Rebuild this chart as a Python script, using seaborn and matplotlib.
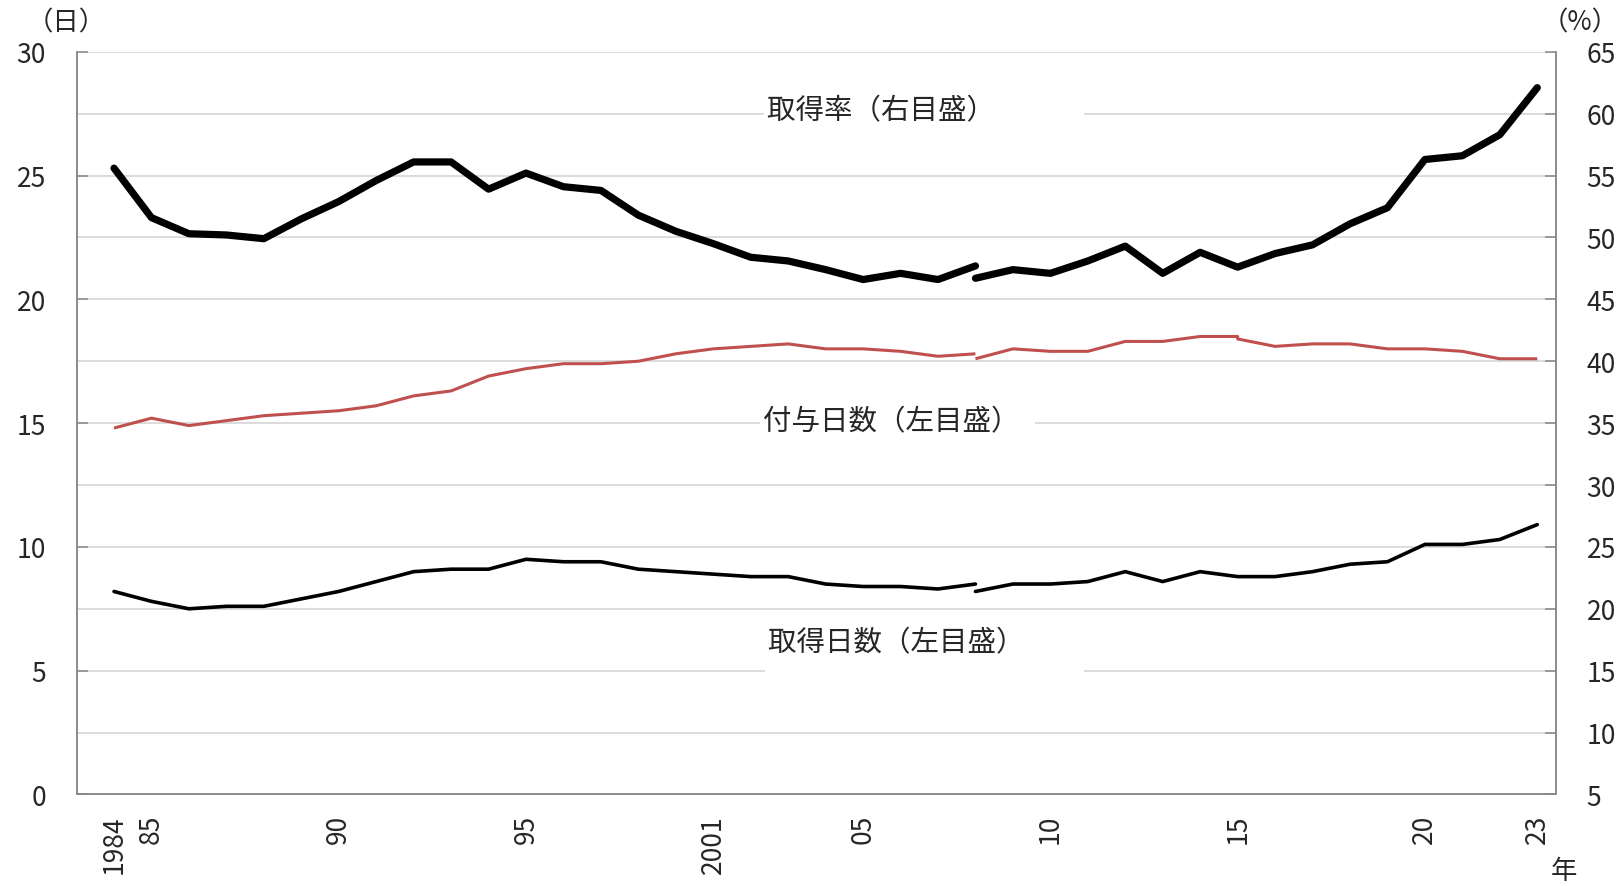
import numpy as np
import pandas as pd
import matplotlib
matplotlib.use("Agg")
import matplotlib.pyplot as plt
import seaborn as sns

# 年（2000年は調査なし）
years = list(range(1984, 2000)) + list(range(2001, 2024))
tick_labels = {1984: "1984", 1985: "85", 1990: "90", 1995: "95", 2001: "2001",
               2005: "05", 2010: "10", 2015: "15", 2020: "20", 2023: "23"}

# 旧基準 1984〜2008
old_years = years[:years.index(2008) + 1]
old_granted = [14.8, 15.2, 14.9, 15.1, 15.3, 15.4, 15.5, 15.7, 16.1, 16.3, 16.9, 17.2,
               17.4, 17.4, 17.5, 17.8, 18.0, 18.1, 18.2, 18.0, 18.0, 17.9, 17.7, 17.8]
old_taken = [8.2, 7.8, 7.5, 7.6, 7.6, 7.9, 8.2, 8.6, 9.0, 9.1, 9.1, 9.5,
             9.4, 9.4, 9.1, 9.0, 8.9, 8.8, 8.8, 8.5, 8.4, 8.4, 8.3, 8.5]
old_rate = [55.6, 51.6, 50.3, 50.2, 49.9, 51.5, 52.9, 54.6, 56.1, 56.1, 53.9, 55.2,
            54.1, 53.8, 51.8, 50.5, 49.5, 48.4, 48.1, 47.4, 46.6, 47.1, 46.6, 47.7]

# 新基準 2008〜2023（2015年は2つの値）
new_years = [2008, 2009, 2010, 2011, 2012, 2013, 2014, 2015, 2015,
             2016, 2017, 2018, 2019, 2020, 2021, 2022, 2023]
new_granted = [17.6, 18.0, 17.9, 17.9, 18.3, 18.3, 18.5, 18.5, 18.4,
               18.1, 18.2, 18.2, 18.0, 18.0, 17.9, 17.6, 17.6]
new_taken = [8.2, 8.5, 8.5, 8.6, 9.0, 8.6, 9.0, 8.8, 8.8,
             8.8, 9.0, 9.3, 9.4, 10.1, 10.1, 10.3, 10.9]
new_rate = [46.7, 47.4, 47.1, 48.1, 49.3, 47.1, 48.8, 47.6, 47.6,
            48.7, 49.4, 51.1, 52.4, 56.3, 56.6, 58.3, 62.1]

pos = {y: i for i, y in enumerate(years)}


def make_df(yrs, granted, taken, rate):
    return pd.DataFrame({
        "x": [pos[y] for y in yrs],
        "granted": granted,
        "taken": taken,
        "rate": rate,
    })


df_old = make_df(old_years, old_granted, old_taken, old_rate)
df_new = make_df(new_years, new_granted, new_taken, new_rate)

sns.set_theme(style="white")
plt.rcParams["font.family"] = ["Noto Sans CJK JP", "DejaVu Sans"]
plt.rcParams["font.size"] = 19

fig, ax = plt.subplots(figsize=(16.22, 8.87), dpi=100)
fig.subplots_adjust(left=0.0472, right=0.9593, bottom=0.1032, top=0.9405)
ax2 = ax.twinx()

red = "#c0504d"
for d in (df_old, df_new):
    sns.lineplot(data=d, x="x", y="granted", ax=ax, color=red, lw=2.2,
                 estimator=None, sort=False, solid_capstyle="butt")
    sns.lineplot(data=d, x="x", y="taken", ax=ax, color="black", lw=2.6,
                 estimator=None, sort=False, solid_capstyle="round")
    sns.lineplot(data=d, x="x", y="rate", ax=ax2, color="black", lw=5.2,
                 estimator=None, sort=False, solid_capstyle="round")

# 軸
ax.set_xlim(-1, 38.5)
ax.set_ylim(0, 30)
ax2.set_ylim(5, 65)
ax.set_xlabel("")
ax.set_ylabel("")
ax2.set_ylabel("")

ax.set_xticks(range(len(years)))
ax.set_xticklabels([tick_labels.get(y, "") for y in years], rotation=90)
ax.set_yticks(np.arange(0, 31, 5))
ax.set_yticks(np.arange(2.5, 30, 5), minor=True)
ax2.set_yticks(np.arange(5, 66, 5))

ax.grid(False)
ax2.grid(False)
ax.yaxis.grid(True, which="both", color="#d9d9d9", lw=1.3)

ax.tick_params(axis="x", direction="in", length=8, width=1.1, color="#888888", pad=14, labelsize=19)
ax.tick_params(axis="y", which="major", direction="in", length=8, width=1.1, color="#888888",
               pad=22, labelsize=19)
ax.tick_params(axis="y", which="minor", length=0)
ax2.tick_params(axis="y", direction="in", length=8, width=1.1, color="#888888", pad=22, labelsize=19)

for a in (ax, ax2):
    a.spines["top"].set_visible(False)
    for s in ("left", "right", "bottom"):
        a.spines[s].set_color("#888888")
        a.spines[s].set_linewidth(1.1)

# 系列ラベル
box = dict(facecolor="white", edgecolor="none", pad=2)
ax.text(17.44, 27.62, "取得率（右目盛）　　　", ha="left", va="center", fontsize=20.5, bbox=box, zorder=3)
ax.text(17.33, 15.09, "付与日数（左目盛）  ", ha="left", va="center", fontsize=20.5, bbox=box, zorder=3)
ax.text(17.46, 6.75, "取得日数（左目盛）　　\n　", ha="left", va="top", fontsize=20.5, bbox=box, zorder=3)

# 単位
fig.text(66 / 1622, 1 - 23 / 887, "（日）", ha="center", va="center", fontsize=19)
fig.text(1580 / 1622, 1 - 23 / 887, "（%）", ha="center", va="center", fontsize=19)
fig.text(1564 / 1622, 1 - 872 / 887, "年", ha="center", va="center", fontsize=19)

fig.savefig("out.png", dpi=100)
